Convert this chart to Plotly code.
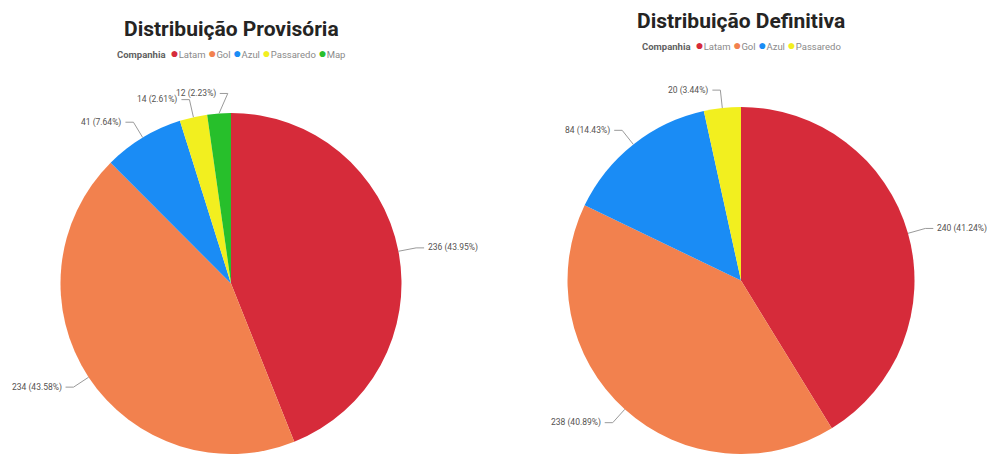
import math
import plotly.graph_objects as go

W, H = 992, 454

# ---------------- data ----------------
titles = ["Distribuição Provisória", "Distribuição Definitiva"]
legend_title = "Companhia"

companies_prov = ["Latam", "Gol", "Azul", "Passaredo", "Map"]
values_prov = [236, 234, 41, 14, 12]

companies_def = ["Latam", "Gol", "Azul", "Passaredo"]
values_def = [240, 238, 84, 20]

company_colors = {
    "Latam": "#D62B3A",
    "Gol": "#F2814E",
    "Azul": "#1A8CF5",
    "Passaredo": "#F2EF1F",
    "Map": "#27BF2B",
}

# ---------------- layout / style (pixels) ----------------
panels = [
    dict(labels=companies_prov, values=values_prov, title=titles[0],
         cx=231, top=113, title_y=29, legend_y=53,
         nudge_x=[0, 0, 0, 0, 10], nudge_y=[0, 0, 0, 0, -2]),
    dict(labels=companies_def, values=values_def, title=titles[1],
         cx=741, top=107, title_y=21, legend_y=45,
         nudge_x=[0, 0, 0, 0], nudge_y=[0, 0, 0, 0]),
]

LABEL_FONT = dict(family="Roboto, Open Sans, sans-serif", size=8.5, color="#555351")
TITLE_FONT = dict(family="Roboto, sans-serif", size=21, color="#252423")
LEGEND_FONT = dict(family="Roboto, Open Sans, sans-serif", size=9.5, color="#8A8A8A")
LINE_COLOR = "#9A9A9A"
ELBOW = 18
SEG = 8
GAP = 2


def px(x, y):
    return x / W, 1 - y / H


fig = go.Figure()
shapes = []
annotations = []

for p in panels:
    r = (H - p["top"]) / 2.0
    cx = p["cx"]
    cy = p["top"] + r
    fig.add_trace(go.Pie(
        labels=p["labels"],
        values=p["values"],
        sort=False,
        direction="clockwise",
        rotation=0,
        textinfo="none",
        hoverinfo="label+value+percent",
        marker=dict(colors=[company_colors[c] for c in p["labels"]],
                    line=dict(width=0)),
        domain=dict(x=[(cx - r) / W, (cx + r) / W], y=[0, (H - p["top"]) / H]),
        showlegend=False,
    ))

    total = sum(p["values"])
    cum = 0
    for i, v in enumerate(p["values"]):
        theta = 2 * math.pi * (cum + v / 2.0) / total
        cum += v
        s, c = math.sin(theta), math.cos(theta)
        ax, ay = cx + r * s, cy - r * c
        ex = cx + (r + ELBOW) * s + p["nudge_x"][i]
        ey = cy - (r + ELBOW) * c + p["nudge_y"][i]
        right = s > 0
        hx = ex + SEG if right else ex - SEG
        tx = hx + GAP if right else hx - GAP
        a = px(ax, ay)
        e = px(ex, ey)
        h = px(hx, ey)
        shapes.append(dict(
            type="path", xref="paper", yref="paper",
            path=f"M {a[0]},{a[1]} L {e[0]},{e[1]} L {h[0]},{h[1]}",
            line=dict(color=LINE_COLOR, width=1),
        ))
        t = px(tx, ey)
        pct = 100.0 * v / total
        annotations.append(dict(
            xref="paper", yref="paper", x=t[0], y=t[1],
            text=f"{v} ({pct:.2f}%)", showarrow=False,
            xanchor="left" if right else "right", yanchor="middle",
            font=LABEL_FONT,
        ))

    # title
    tt = px(cx, p["title_y"])
    annotations.append(dict(
        xref="paper", yref="paper", x=tt[0], y=tt[1],
        text=f"<b>{p['title']}</b>", showarrow=False,
        xanchor="center", yanchor="middle", font=TITLE_FONT,
    ))

    # legend
    parts = [f"<span style=\"color:#5F5F5F\"><b>{legend_title}</b></span> "]
    for lab in p["labels"]:
        parts.append(
            f" <span style=\"color:{company_colors[lab]};font-size:14px\">●</span>{lab}")
    lt = px(cx, p["legend_y"])
    annotations.append(dict(
        xref="paper", yref="paper", x=lt[0], y=lt[1],
        text="".join(parts), showarrow=False,
        xanchor="center", yanchor="middle",
        font=LEGEND_FONT,
    ))

fig.update_layout(
    width=W, height=H,
    margin=dict(l=0, r=0, t=0, b=0),
    paper_bgcolor="white",
    plot_bgcolor="white",
    shapes=shapes,
    annotations=annotations,
    showlegend=False,
)

fig.write_html("out.html")
